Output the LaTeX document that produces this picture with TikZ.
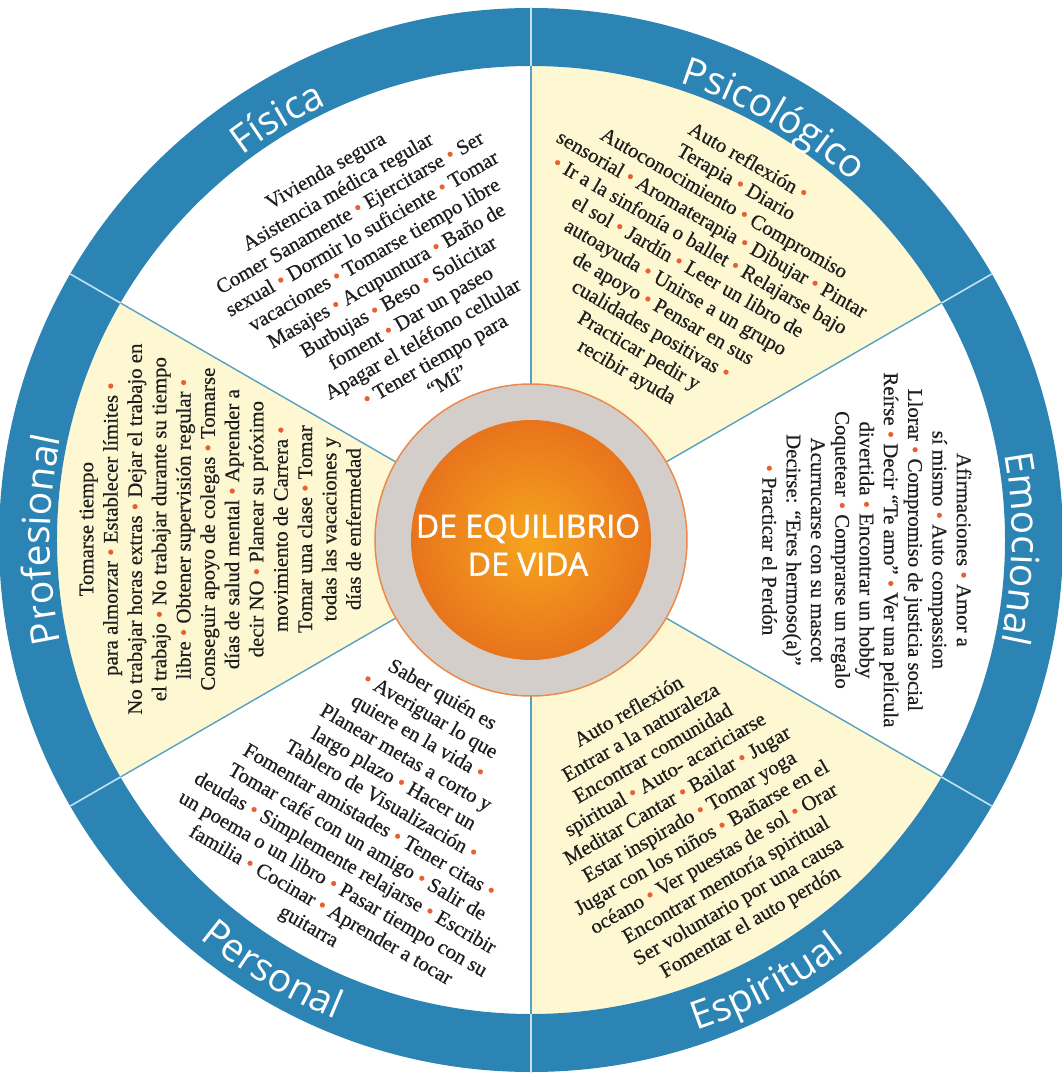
\documentclass[tikz,border=0pt]{standalone}
\usepackage{fontspec}
\setmainfont{Liberation Serif}[FakeBold=0.5]
\newfontfamily\labelsans{Open Sans}
\newfontfamily\hubsans{Open Sans}[FakeBold=1.4]
\usetikzlibrary{decorations.text}

\definecolor{ringblue}{RGB}{43,132,180}
\definecolor{cream}{RGB}{254,248,210}
\definecolor{spoke}{RGB}{86,160,196}
\definecolor{spokelight}{RGB}{196,226,240}
\definecolor{hubgray}{RGB}{212,206,203}
\definecolor{hubedge}{RGB}{236,138,76}
\definecolor{orangein}{RGB}{246,165,30}
\definecolor{orangeout}{RGB}{232,116,28}
\definecolor{dotred}{RGB}{232,96,48}
\definecolor{ink}{RGB}{30,30,30}

\newcommand\sepdot{{\color{dotred}\textbullet}}
\newcommand\ringfont{\labelsans\fontsize{39}{39}\selectfont\color{white}}

\begin{document}
\begin{tikzpicture}[x=1pt,y=1pt,
    body/.style={align=center,text=ink,inner sep=0pt,
      font=\fontsize{20.8}{24.3}\selectfont},
    ring label/.style={decorate,decoration={text along path,
      text align=center,text={|\ringfont|#1}}}]
  \useasboundingbox (-531,-536) rectangle (530,540);

  % cream sectors, blue band and spokes
  \foreach \a in {-90,30,150}
    \fill[cream] (0,0) -- (\a:474) arc[start angle=\a,end angle=\a+60,radius=474] -- cycle;
  \fill[ringblue,even odd rule] (0,0) circle[radius=532] (0,0) circle[radius=474];
  \foreach \a in {-150,-90,...,150} {
    \draw[spoke,line width=1.4pt] (0,0) -- (\a:474);
    \draw[spokelight,line width=1.6pt] (\a:474) -- (\a:532);
  }

  % hub
  \fill[hubgray] (0,0) circle[radius=156];
  \draw[hubedge,line width=1.5pt] (0,0) circle[radius=156];
  \shade[inner color=orangein,outer color=orangeout] (0,0) circle[radius=120];
  \node[text=white,align=center,font=\hubsans\fontsize{32}{38}\selectfont] (core) at (-3,-5)
    {DE EQUILIBRIO\\DE VIDA};

  % band titles
  \path[ring label=Física] (151:481) arc[start angle=151,end angle=91,radius=481];
  \path[ring label=Psicológico] (90:481) arc[start angle=90,end angle=30,radius=481];
  \path[ring label=Emocional] (29:481) arc[start angle=29,end angle=-31,radius=481];
  \path[ring label=Profesional] (210:481) arc[start angle=210,end angle=150,radius=481];
  \path[ring label=Espiritual] (-92:518) arc[start angle=-92,end angle=-32,radius=518];
  \path[ring label=Personal] (-151:518) arc[start angle=-151,end angle=-91,radius=518];

  \node[body,rotate=30] (fisica) at (118.7:302) {Vivienda segura\\
    Asistencia médica regular\\
    Comer Sanamente \sepdot{} Ejercitarse \sepdot{} Ser\\
    sexual \sepdot{} Dormir lo suficiente \sepdot{} Tomar\\
    vacaciones \sepdot{} Tomarse tiempo libre\\
    Masajes \sepdot{} Acupuntura \sepdot{} Baño de\\
    Burbujas \sepdot{} Beso \sepdot{} Solicitar\\
    foment \sepdot{} Dar un paseo\\
    Apagar el teléfono cellular\\
    \sepdot{} Tener tiempo para\\
    “Mí”};
  \node[body,rotate=-30] (psico) at (60.2:314) {Auto reflexión \sepdot\\
    Terapia \sepdot{} Diario\\
    Autoconocimiento \sepdot{} Compromiso\\
    sensorial \sepdot{} Aromaterapia \sepdot{} Dibujar \sepdot{} Pintar\\
    \sepdot{} Ir a la sinfonía o ballet \sepdot{} Relajarse bajo\\
    el sol \sepdot{} Jardín \sepdot{} Leer un libro de\\
    autoayuda \sepdot{} Unirse a un grupo\\
    de apoyo \sepdot{} Pensar en sus\\
    cualidades positivas \sepdot\\
    Practicar pedir y\\
    recibir ayuda};
  \node[body,rotate=-90] (emoc) at (-1.7:336) {Afirmaciones \sepdot{} Amor a\\
    sí mismo \sepdot{} Auto compassion\\
    Llorar \sepdot{} Compromiso de justicia social\\
    Reírse \sepdot{} Decir “Te amo” \sepdot{} Ver una película\\
    divertida \sepdot{} Encontrar un hobby\\
    Coquetear \sepdot{} Comprarse un regalo\\
    Acurrucarse con su mascot\\
    Decirse: “Eres hermoso(a)”\\
    \sepdot{} Practicar el Perdón};
  \node[body,rotate=30] (espir) at (-60.2:320) {Auto reflexión\\
    Entrar a la naturaleza\\
    Encontrar comunidad\\
    spiritual \sepdot{} Auto- acariciarse\\
    Meditar Cantar \sepdot{} Bailar \sepdot{} Jugar\\
    Estar inspirado \sepdot{} Tomar yoga\\
    Jugar con los niños \sepdot{} Bañarse en el\\
    océano \sepdot{} Ver puestas de sol \sepdot{} Orar\\
    Encontrar mentoría spiritual\\
    Ser voluntario por una causa\\
    Fomentar el auto perdón};
  \node[body,rotate=-30] (perso) at (-119.9:313) {Saber quién es\\
    \sepdot{} Averiguar lo que\\
    quiere en la vida \sepdot\\
    Planear metas a corto y\\
    largo plazo \sepdot{} Hacer un\\
    Tablero de Visualización \sepdot\\
    Fomentar amistades \sepdot{} Tener citas \sepdot\\
    Tomar café con un amigo \sepdot{} Salir de\\
    deudas \sepdot{} Simplemente relajarse \sepdot{} Escribir\\
    un poema o un libro \sepdot{} Pasar tiempo con su\\
    familia \sepdot{} Cocinar \sepdot{} Aprender a tocar\\
    guitarra};
  \node[body,rotate=90] (profe) at (178:311) {Tomarse tiempo\\
    para almorzar \sepdot{} Establecer límites \sepdot\\
    No trabajar horas extras \sepdot{} Dejar el trabajo en\\
    el trabajo \sepdot{} No trabajar durante su tiempo\\
    libre \sepdot{} Obtener supervisión regular \sepdot\\
    Conseguir apoyo de colegas \sepdot{} Tomarse\\
    días de salud mental \sepdot{} Aprender a\\
    decir NO \sepdot{} Planear su próximo\\
    movimiento de Carrera \sepdot\\
    Tomar una clase \sepdot{} Tomar\\
    todas las vacaciones y\\
    días de enfermedad};
\end{tikzpicture}
\end{document}
